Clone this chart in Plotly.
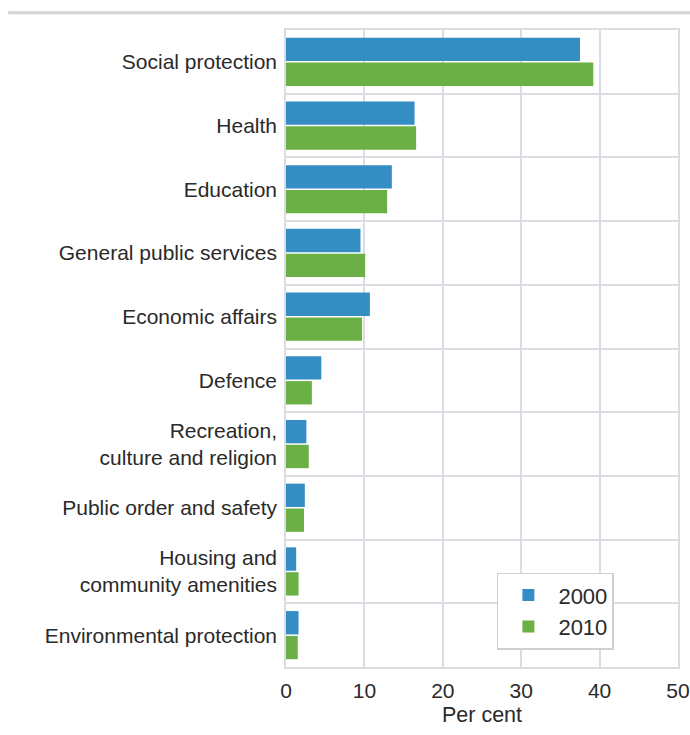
import plotly.graph_objects as go

categories = [
    "Social protection",
    "Health",
    "Education",
    "General public services",
    "Economic affairs",
    "Defence",
    "Recreation,<br>culture and religion",
    "Public order and safety",
    "Housing and<br>community amenities",
    "Environmental protection",
]
values_2000 = [37.5, 16.4, 13.5, 9.5, 10.7, 4.5, 2.6, 2.4, 1.3, 1.6]
values_2010 = [39.2, 16.6, 12.9, 10.1, 9.7, 3.3, 2.9, 2.3, 1.6, 1.5]
x_ticks = [0, 10, 20, 30, 40, 50]

pos = list(range(len(categories)))
font = "Liberation Sans, Arial, sans-serif"
grid = "#dcdce2"
txt = "#2a2a2a"

fig = go.Figure()
fig.add_trace(go.Bar(y=pos, x=values_2000, orientation="h", name="2000",
                     marker=dict(color="#348ec4", line=dict(width=0))))
fig.add_trace(go.Bar(y=pos, x=values_2010, orientation="h", name="2010",
                     marker=dict(color="#6ab045", line=dict(width=0))))

fig.update_layout(
    width=690, height=735,
    margin=dict(l=286, r=12, t=30, b=68),
    paper_bgcolor="white", plot_bgcolor="white",
    barmode="group", bargap=0.22, bargroupgap=0.06,
    font=dict(family=font, size=21, color=txt),
    xaxis=dict(range=[0, 50], tickvals=x_ticks, showgrid=True, gridcolor=grid,
               gridwidth=1.5, zeroline=False, showline=True, linecolor=grid,
               linewidth=1.5, mirror=True, ticks="", fixedrange=True,
               ticklabelstandoff=4, automargin=False,
               title=dict(text="Per cent", standoff=6,
                          font=dict(size=21.5, color=txt))),
    yaxis=dict(range=[len(categories) - 0.5, -0.5], tickmode="array",
               tickvals=pos, ticktext=categories, showgrid=False,
               zeroline=False, showline=True, linecolor=grid, linewidth=1.5,
               mirror=True, ticks="", ticklabelstandoff=3, automargin=False,
               tickfont=dict(size=21, color=txt),
               minor=dict(tickmode="array",
                          tickvals=[p + 0.5 for p in pos[:-1]],
                          showgrid=True, gridcolor=grid, gridwidth=1.5,
                          ticks="")),
    legend=dict(x=0.538, y=0.148, xanchor="left", yanchor="top",
                bgcolor="white", bordercolor="#d0d0d0", borderwidth=1.5,
                font=dict(size=22, color=txt),
                traceorder="normal", itemwidth=50),
    showlegend=True,
    shapes=[dict(type="line", xref="paper", yref="paper",
                 x0=-0.709, x1=1.04, y0=1.027, y1=1.027,
                 line=dict(color="#d4d4d4", width=3))],
)

fig.write_html("out.html", config={"displayModeBar": False},
               post_script="document.body.style.margin='0';")
